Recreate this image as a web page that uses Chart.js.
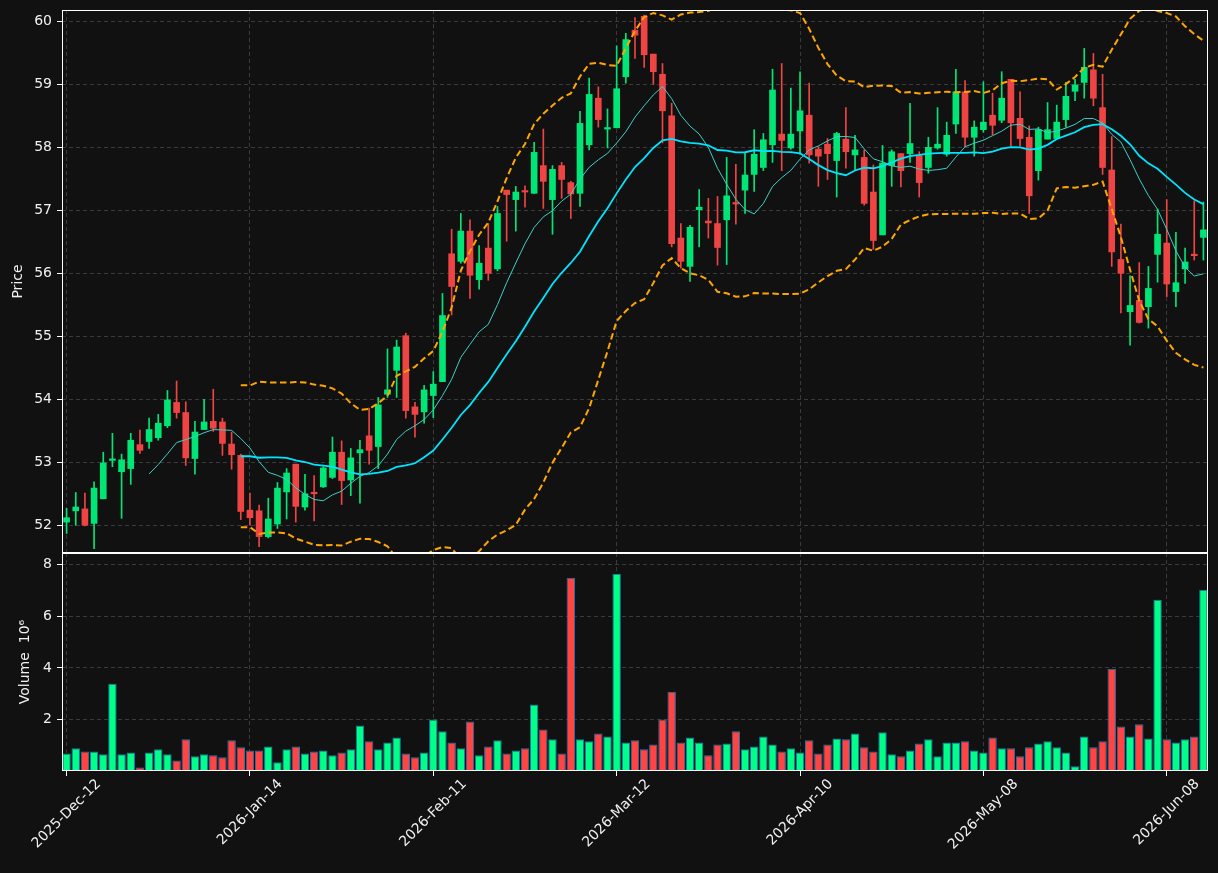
<!DOCTYPE html>
<html>
<head>
<meta charset="utf-8">
<title>Price / Volume</title>
<script src="https://cdn.jsdelivr.net/npm/chart.js@4.4.1/dist/chart.umd.min.js"></script>
<style>
  html, body { margin: 0; padding: 0; background: #111111; }
  #wrap { position: relative; width: 1218px; height: 873px; }
  #price-box { position: absolute; left: 0; top: 0; width: 1218px; height: 556px; }
  #volume-box { position: absolute; left: 0; top: 550px; width: 1218px; height: 323px; }
</style>
</head>
<body>
<div id="wrap">
  <div id="price-box"><canvas id="price-chart"></canvas></div>
  <div id="volume-box"><canvas id="volume-chart"></canvas></div>
</div>
<script>
// trading days (categories)
const dates = [
  '2025-Dec-12', '2025-Dec-15', '2025-Dec-16', '2025-Dec-17', '2025-Dec-18', '2025-Dec-19', '2025-Dec-22', '2025-Dec-23', '2025-Dec-24', '2025-Dec-29',
  '2025-Dec-30', '2025-Dec-31', '2026-Jan-02', '2026-Jan-05', '2026-Jan-06', '2026-Jan-07', '2026-Jan-08', '2026-Jan-09', '2026-Jan-12', '2026-Jan-13',
  '2026-Jan-14', '2026-Jan-15', '2026-Jan-16', '2026-Jan-19', '2026-Jan-20', '2026-Jan-21', '2026-Jan-22', '2026-Jan-23', '2026-Jan-26', '2026-Jan-27',
  '2026-Jan-28', '2026-Jan-29', '2026-Jan-30', '2026-Feb-02', '2026-Feb-03', '2026-Feb-04', '2026-Feb-05', '2026-Feb-06', '2026-Feb-09', '2026-Feb-10',
  '2026-Feb-11', '2026-Feb-12', '2026-Feb-13', '2026-Feb-17', '2026-Feb-18', '2026-Feb-19', '2026-Feb-20', '2026-Feb-23', '2026-Feb-24', '2026-Feb-25',
  '2026-Feb-26', '2026-Feb-27', '2026-Mar-02', '2026-Mar-03', '2026-Mar-04', '2026-Mar-05', '2026-Mar-06', '2026-Mar-09', '2026-Mar-10', '2026-Mar-11',
  '2026-Mar-12', '2026-Mar-13', '2026-Mar-16', '2026-Mar-17', '2026-Mar-18', '2026-Mar-19', '2026-Mar-20', '2026-Mar-23', '2026-Mar-24', '2026-Mar-25',
  '2026-Mar-26', '2026-Mar-27', '2026-Mar-30', '2026-Mar-31', '2026-Apr-01', '2026-Apr-02', '2026-Apr-06', '2026-Apr-07', '2026-Apr-08', '2026-Apr-09',
  '2026-Apr-10', '2026-Apr-13', '2026-Apr-14', '2026-Apr-15', '2026-Apr-16', '2026-Apr-17', '2026-Apr-20', '2026-Apr-21', '2026-Apr-22', '2026-Apr-23',
  '2026-Apr-24', '2026-Apr-27', '2026-Apr-28', '2026-Apr-29', '2026-Apr-30', '2026-May-01', '2026-May-04', '2026-May-05', '2026-May-06', '2026-May-07',
  '2026-May-08', '2026-May-11', '2026-May-12', '2026-May-13', '2026-May-14', '2026-May-15', '2026-May-18', '2026-May-19', '2026-May-20', '2026-May-21',
  '2026-May-22', '2026-May-26', '2026-May-27', '2026-May-28', '2026-May-29', '2026-Jun-01', '2026-Jun-02', '2026-Jun-03', '2026-Jun-04', '2026-Jun-05',
  '2026-Jun-08', '2026-Jun-09', '2026-Jun-10', '2026-Jun-11', '2026-Jun-12',
];

const opens = [
  52.05, 52.23, 52.26, 52.03, 52.42, 53.03, 52.85, 52.90, 53.28, 53.33,
  53.39, 53.58, 53.95, 53.79, 53.06, 53.52, 53.65, 53.64, 53.29, 53.11,
  52.24, 52.23, 51.82, 52.02, 52.53, 52.97, 52.29, 52.51, 52.61, 52.76,
  53.16, 52.72, 53.15, 53.42, 53.25, 54.08, 54.46, 55.01, 53.88, 53.80,
  54.06, 54.28, 56.31, 56.19, 56.67, 55.90, 56.40, 56.07, 57.32, 57.17,
  57.30, 57.27, 57.71, 57.17, 57.71, 57.44, 57.27, 58.04, 58.78, 58.29,
  58.31, 59.12, 59.86, 60.08, 59.48, 59.16, 58.50, 56.56, 56.11, 57.01,
  56.83, 56.79, 56.85, 57.11, 57.32, 57.57, 57.68, 58.04, 58.21, 57.99,
  58.26, 58.51, 57.97, 58.05, 57.79, 58.13, 57.88, 57.84, 57.29, 56.61,
  57.71, 57.90, 57.90, 57.87, 57.68, 57.99, 57.89, 58.37, 58.88, 58.16,
  58.28, 58.51, 58.43, 59.08, 58.46, 58.16, 57.63, 58.13, 58.14, 58.44,
  58.89, 59.03, 59.23, 58.63, 57.64, 56.22, 55.39, 55.57, 55.47, 56.30,
  56.48, 55.71, 56.07, 56.29, 56.57,
];
const highs = [
  52.27, 52.52, 52.51, 52.69, 53.16, 53.46, 53.13, 53.46, 53.51, 53.70,
  53.76, 54.14, 54.29, 53.96, 53.65, 54.00, 54.16, 53.70, 53.48, 53.13,
  52.51, 52.32, 52.43, 52.68, 52.90, 52.97, 52.81, 52.79, 52.93, 53.40,
  53.34, 53.22, 53.35, 53.86, 54.03, 54.80, 54.94, 55.05, 53.95, 54.22,
  54.44, 55.68, 56.70, 56.95, 56.85, 56.44, 56.79, 57.06, 57.32, 57.38,
  57.39, 58.08, 58.29, 57.71, 57.76, 57.46, 58.57, 59.10, 58.96, 58.61,
  59.61, 59.81, 60.06, 60.10, 59.48, 59.33, 58.70, 56.79, 56.76, 57.33,
  57.19, 57.22, 57.84, 57.73, 57.92, 58.28, 58.22, 59.24, 59.33, 58.94,
  59.20, 59.02, 58.01, 58.14, 58.24, 58.63, 58.19, 57.96, 57.72, 58.03,
  57.96, 57.90, 58.70, 57.93, 58.16, 58.63, 58.40, 59.24, 59.06, 58.42,
  59.04, 58.86, 59.20, 59.08, 58.88, 58.34, 58.32, 58.71, 58.67, 59.03,
  59.08, 59.57, 59.49, 59.16, 58.17, 56.78, 55.96, 56.17, 56.11, 57.02,
  57.17, 56.65, 56.40, 57.15, 57.13,
];
const lows = [
  51.87, 52.00, 51.99, 51.63, 52.42, 52.93, 52.11, 52.65, 53.14, 53.22,
  53.35, 53.55, 53.70, 52.95, 52.81, 53.52, 53.49, 53.11, 52.89, 52.09,
  52.00, 51.66, 51.80, 51.95, 52.10, 52.05, 52.24, 52.07, 52.60, 52.74,
  52.33, 52.47, 52.35, 52.97, 52.90, 54.03, 54.03, 53.70, 53.40, 53.62,
  53.71, 54.28, 55.34, 56.16, 55.60, 55.75, 55.89, 56.04, 56.51, 56.67,
  57.05, 57.27, 57.03, 56.62, 57.19, 56.87, 57.06, 57.96, 58.32, 57.99,
  58.31, 59.02, 59.41, 59.27, 59.00, 58.07, 56.42, 56.08, 55.87, 56.42,
  56.56, 56.13, 56.14, 56.78, 56.95, 57.30, 57.63, 57.76, 57.63, 57.97,
  57.89, 57.75, 57.38, 57.49, 57.21, 57.67, 57.64, 57.08, 56.38, 56.61,
  57.38, 57.37, 57.76, 57.21, 57.59, 57.97, 57.86, 58.22, 58.01, 57.86,
  58.24, 58.20, 58.39, 58.02, 58.02, 56.95, 57.48, 58.13, 58.13, 58.32,
  58.74, 58.78, 58.66, 57.57, 56.11, 55.37, 54.86, 55.21, 55.13, 55.86,
  55.63, 55.47, 55.84, 56.21, 56.21,
];
const closes = [
  52.12, 52.29, 52.00, 52.59, 52.99, 53.05, 53.04, 53.35, 53.19, 53.52,
  53.62, 53.99, 53.79, 53.07, 53.48, 53.64, 53.54, 53.30, 53.12, 52.22,
  52.12, 51.82, 52.10, 52.59, 52.83, 52.30, 52.50, 52.50, 52.91, 53.16,
  52.71, 53.07, 53.20, 53.19, 53.91, 54.15, 54.83, 53.82, 53.76, 54.15,
  54.24, 55.33, 55.79, 56.67, 55.97, 56.16, 56.00, 56.95, 57.25, 57.29,
  57.29, 57.92, 57.46, 57.65, 57.49, 57.26, 58.38, 58.84, 58.44, 58.31,
  58.93, 59.71, 59.78, 59.47, 59.20, 58.58, 56.47, 56.19, 56.73, 57.05,
  56.80, 56.41, 57.23, 57.10, 57.56, 57.89, 58.12, 58.91, 58.11, 58.21,
  58.58, 57.88, 57.86, 57.90, 58.22, 57.93, 57.96, 57.11, 56.52, 57.75,
  57.93, 57.63, 58.06, 57.44, 58.00, 58.05, 58.19, 58.88, 58.16, 58.32,
  58.40, 58.35, 58.78, 58.39, 58.14, 57.23, 58.28, 58.28, 58.40, 58.81,
  58.99, 59.27, 58.78, 57.68, 56.34, 56.00, 55.49, 55.22, 55.76, 56.62,
  55.83, 55.85, 56.18, 56.28, 56.69,
];
// volume, millions of shares
const volumes = [
  0.68, 0.88, 0.76, 0.76, 0.65, 3.39, 0.65, 0.72, 0.14, 0.72,
  0.84, 0.65, 0.41, 1.23, 0.57, 0.65, 0.61, 0.53, 1.19, 0.92,
  0.80, 0.80, 0.95, 0.34, 0.84, 0.95, 0.68, 0.76, 0.80, 0.61,
  0.72, 0.84, 1.77, 1.15, 0.84, 1.11, 1.30, 0.68, 0.53, 0.72,
  2.00, 1.54, 1.11, 0.88, 1.92, 0.61, 0.95, 1.19, 0.68, 0.80,
  0.88, 2.58, 1.61, 1.23, 0.68, 7.50, 1.23, 1.15, 1.46, 1.34,
  7.65, 1.11, 1.19, 0.84, 1.03, 2.00, 3.08, 1.11, 1.30, 1.11,
  0.61, 1.03, 1.07, 1.54, 0.84, 0.95, 1.34, 1.03, 0.76, 0.88,
  0.72, 1.19, 0.68, 1.03, 1.26, 1.23, 1.46, 0.92, 0.76, 1.50,
  0.65, 0.57, 0.80, 1.07, 1.23, 0.57, 1.11, 1.11, 1.15, 0.80,
  0.72, 1.30, 0.88, 0.88, 0.57, 0.92, 1.07, 1.15, 0.92, 0.72,
  0.18, 1.34, 0.92, 1.15, 3.97, 1.73, 1.34, 1.81, 1.26, 6.65,
  1.23, 1.11, 1.23, 1.34, 7.03,
];

const tickLabels = ['2025-Dec-12', '2026-Jan-14', '2026-Feb-11', '2026-Mar-12', '2026-Apr-10', '2026-May-08', '2026-Jun-08'];
const priceTicks = [52, 53, 54, 55, 56, 57, 58, 59, 60];
const volumeTicks = [2, 4, 6, 8];

(function () {
    const TEXT = '#f0f0f0';
    const GRID = '#3a3a3a';
    const UP = '#00e676';
    const DOWN = '#ef4444';
    const VOL_UP = '#00ff88';
    const VOL_DOWN = '#ff4444';

    Chart.defaults.font.family = '"DejaVu Sans", sans-serif';
    Chart.defaults.font.size = 14;
    Chart.defaults.color = TEXT;
    Chart.defaults.animation = false;

    // indicators derived from the closes above (10/20 day averages, 20 day +-2 sd bands)
    const rolling = (n, fn) => closes.map((_, i) => (i < n - 1 ? null : fn(closes.slice(i - n + 1, i + 1))));
    const mean = (a) => a.reduce((s, v) => s + v, 0) / a.length;
    const sd = (a) => { const m = mean(a); return Math.sqrt(a.reduce((s, v) => s + (v - m) * (v - m), 0) / a.length); };
    const ma10 = rolling(10, mean);
    const ma20 = rolling(20, mean);
    const upper = rolling(20, (a) => mean(a) + 2 * sd(a));
    const lower = rolling(20, (a) => mean(a) - 2 * sd(a));

    const isUp = closes.map((c, i) => c >= opens[i]);
    const candleColors = isUp.map((u) => (u ? UP : DOWN));
    const volColors = isUp.map((u) => (u ? VOL_UP : VOL_DOWN));
    const labelIdx = tickLabels.map((l) => dates.indexOf(l));
    const atLabel = (ctx) => labelIdx.includes(ctx.index);

    const frame = {
        id: 'frame',
        afterDraw(chart) {
            const { ctx, chartArea: a } = chart;
            ctx.save();
            ctx.strokeStyle = '#ffffff';
            ctx.lineWidth = 1;
            ctx.strokeRect(a.left + 0.5, a.top + 0.5, a.right - a.left - 1, a.bottom - a.top - 1);
            ctx.restore();
        },
    };

    const dateLabels = {
        id: 'dateLabels',
        afterDraw(chart) {
            const { ctx, chartArea, scales } = chart;
            ctx.save();
            ctx.font = '14px "DejaVu Sans", sans-serif';
            ctx.fillStyle = TEXT;
            ctx.textAlign = 'center';
            ctx.textBaseline = 'middle';
            tickLabels.forEach((lbl, k) => {
                const px = scales.x.getPixelForTick(labelIdx[k]);
                const h = (ctx.measureText(lbl).width + 14) / Math.SQRT2;
                ctx.save();
                ctx.translate(px, chartArea.bottom + 6 + h / 2);
                ctx.rotate(-Math.PI / 4);
                ctx.fillText(lbl, 0, 0);
                ctx.restore();
            });
            ctx.restore();
        },
    };

    const yAxis = (min, max, ticks, title, titlePad) => ({
        position: 'left',
        min: min,
        max: max,
        afterBuildTicks: (s) => { s.ticks = ticks.map((v) => ({ value: v })); },
        afterFit: (s) => {
            s.width = 62;
            // labels stay inside the panel, no extra room needed above/below
            s.paddingTop = 0;
            s.paddingBottom = 0;
        },
        ticks: { color: TEXT, padding: 5 },
        grid: { color: GRID, tickColor: '#ffffff', tickLength: 5 },
        border: { display: false, dash: [4, 3] },
        title: { display: true, text: title, color: TEXT, padding: { top: titlePad, bottom: 0 } },
    });

    const xAxis = (height, drawTicks) => ({
        type: 'category',
        offset: true,
        afterFit: (s) => {
            s.height = height;
            s.paddingLeft = 0;
            s.paddingRight = 0;
        },
        ticks: { display: false, autoSkip: false },
        grid: {
            offset: false,
            color: (ctx) => (atLabel(ctx) ? GRID : 'rgba(0,0,0,0)'),
            tickColor: (ctx) => (atLabel(ctx) ? '#ffffff' : 'rgba(0,0,0,0)'),
            drawTicks: drawTicks,
            tickLength: 5,
        },
        border: { display: false, dash: [4, 3] },
    });

    const line = (data, color, width, dash, order) => ({
        type: 'line',
        data: data,
        borderColor: color,
        borderWidth: width,
        borderDash: dash,
        pointRadius: 0,
        tension: 0,
        fill: false,
        order: order,
    });

    new Chart(document.getElementById('price-chart'), {
        type: 'bar',
        data: {
            labels: dates,
            datasets: [
                line(upper, '#ffa500', 2, [6.5, 3.5], 0),
                line(lower, '#ffa500', 2, [6.5, 3.5], 0),
                line(ma20, '#00e5ff', 1.8, [], 1),
                line(ma10, '#3fd0c9', 1, [], 1),
                {
                    data: opens.map((o, i) => [o, closes[i]]),
                    backgroundColor: candleColors,
                    barThickness: 6,
                    minBarLength: 1.5,
                    grouped: false,
                    order: 2,
                },
                {
                    data: lows.map((l, i) => [l, highs[i]]),
                    backgroundColor: candleColors,
                    barThickness: 1,
                    grouped: false,
                    order: 3,
                },
            ],
        },
        options: {
            responsive: true,
            maintainAspectRatio: false,
            layout: { padding: { top: 10, right: 10, bottom: 3, left: 0 } },
            plugins: { legend: { display: false }, tooltip: { enabled: false } },
            scales: {
                x: xAxis(0, false),
                y: yAxis(51.56, 60.18, priceTicks, 'Price', 10),
            },
        },
        plugins: [frame],
    });

    new Chart(document.getElementById('volume-chart'), {
        type: 'bar',
        data: {
            labels: dates,
            datasets: [{
                data: volumes,
                backgroundColor: volColors,
                borderColor: '#1f77b4',
                borderWidth: 1,
                barPercentage: 0.92,
                categoryPercentage: 1,
            }],
        },
        options: {
            responsive: true,
            maintainAspectRatio: false,
            layout: { padding: { top: 3, right: 10, bottom: 0, left: 0 } },
            plugins: { legend: { display: false }, tooltip: { enabled: false } },
            scales: {
                x: xAxis(102, true),
                y: yAxis(0, 8.46, volumeTicks, 'Volume  10\u2076', 17),
            },
        },
        plugins: [frame, dateLabels],
    });
})();
</script>
</body>
</html>
